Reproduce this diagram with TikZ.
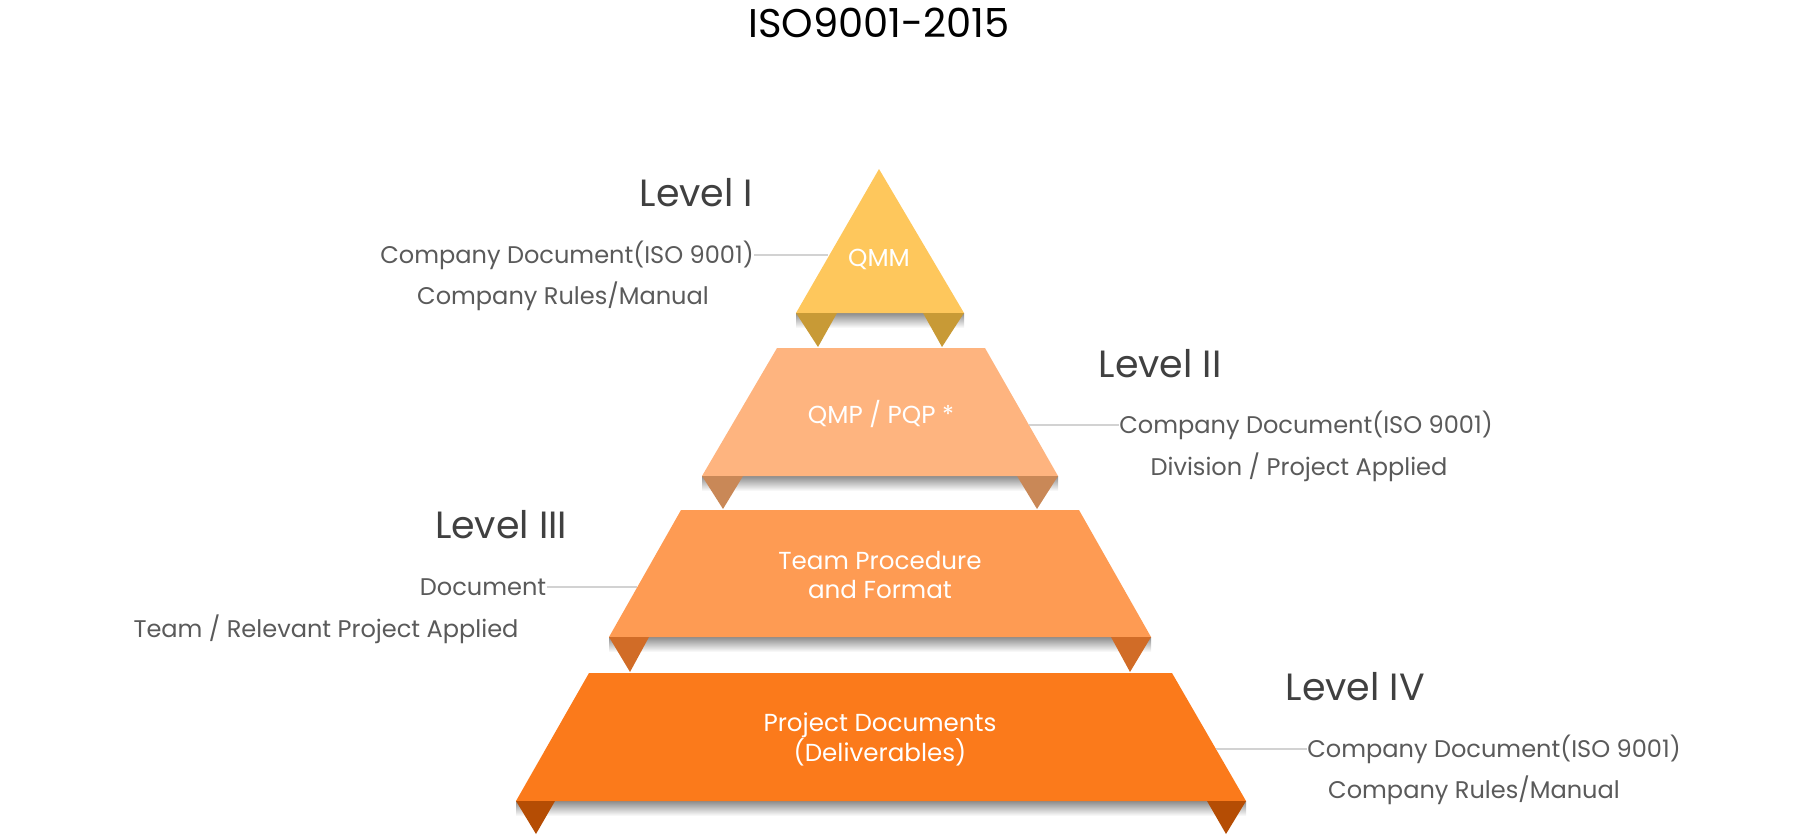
\documentclass[tikz,border=0pt]{standalone}
\usepackage{fontspec}
\setmainfont{Poppins}
\usetikzlibrary{positioning}

\definecolor{lvla}{HTML}{FEC75C}
\definecolor{taba}{HTML}{C89A36}
\definecolor{lvlb}{HTML}{FEB47F}
\definecolor{tabb}{HTML}{C98857}
\definecolor{lvlc}{HTML}{FE9B53}
\definecolor{tabc}{HTML}{D16C27}
\definecolor{lvld}{HTML}{FB7A1B}
\definecolor{tabd}{HTML}{B54D04}
\definecolor{headgray}{HTML}{404040}
\definecolor{notegray}{HTML}{5A5A5A}
\definecolor{leadgray}{HTML}{D2D2D2}

\tikzset{
    lvlhead/.style={text=headgray, font=\fontsize{10.8}{12}\selectfont, inner sep=0pt},
    lvlnote/.style={text=notegray, font=\fontsize{6.85}{8.5}\selectfont, inner sep=0pt},
    lvltext/.style={text=white, align=center, font=\fontsize{7}{8.5}\selectfont, inner sep=0pt},
    leader/.style={draw=leadgray, line width=0.5pt},
    drop/.style={top color=black!45, bottom color=white, draw=none},
}

\begin{document}
\begin{tikzpicture}[x=0.1mm, y=-0.1mm]
    \useasboundingbox (0,0) rectangle (1800,836);

    \node(title) at (879,23) [font=\fontsize{11.4}{13}\selectfont, inner sep=0pt]{ISO9001-2015};

    % level I
    \shade[drop] (796,313) rectangle (964,328);
    \fill[lvla] (796,313) -- (879,169) -- (964,313) -- cycle;
    \fill[taba] (796,313) -- (837,313) -- (818,347) -- cycle;
    \fill[taba] (923,313) -- (964,313) -- (942,347) -- cycle;

    % level II
    \shade[drop] (702,476) rectangle (1058,491);
    \fill[lvlb] (777,348) -- (985,348) -- (1058,476) -- (702,476) -- cycle;
    \fill[tabb] (702,476) -- (743,476) -- (723,509) -- cycle;
    \fill[tabb] (1017,476) -- (1058,476) -- (1037,509) -- cycle;

    % level III
    \shade[drop] (609,637) rectangle (1151,652);
    \fill[lvlc] (681,510) -- (1079,510) -- (1151,637) -- (609,637) -- cycle;
    \fill[tabc] (609,637) -- (649,637) -- (630,672) -- cycle;
    \fill[tabc] (1111,637) -- (1151,637) -- (1130,672) -- cycle;

    % level IV
    \shade[drop] (516,801) rectangle (1246,816);
    \fill[lvld] (589,673) -- (1172,673) -- (1246,801) -- (516,801) -- cycle;
    \fill[tabd] (516,801) -- (555,801) -- (536,834) -- cycle;
    \fill[tabd] (1207,801) -- (1246,801) -- (1226,834) -- cycle;

    \node(qmm) at (879,259) [lvltext]{QMM};
    \node(qmp) at (881,414) [lvltext]{QMP / PQP *};
    \node(team) at (880,575) [lvltext]{Team Procedure\\and Format};
    \node(proj) at (880,739) [lvltext]{Project Documents\\(Deliverables)};

    \node(h1) at (754,193) [lvlhead, anchor=east]{Level I};
    \node(d1a) at (567,255) [lvlnote]{Company Document(ISO 9001)};
    \node(d1b) at (563,296) [lvlnote]{Company Rules/Manual};

    \node(h2) at (1098,364) [lvlhead, anchor=west]{Level II};
    \node(d2a) at (1306,425) [lvlnote]{Company Document(ISO 9001)};
    \node(d2b) at (1299,467) [lvlnote]{Division / Project Applied};

    \node(h3) at (568,525) [lvlhead, anchor=east]{Level III};
    \node(d3a) at (483,587) [lvlnote]{Document};
    \node(d3b) at (326,629) [lvlnote]{Team / Relevant Project Applied};

    \node(h4) at (1285,687) [lvlhead, anchor=west]{Level IV};
    \node(d4a) at (1494,749) [lvlnote]{Company Document(ISO 9001)};
    \node(d4b) at (1474,790) [lvlnote]{Company Rules/Manual};

    \coordinate(e1) at (828,255);
    \coordinate(e2) at (1029,425);
    \coordinate(e3) at (637,587);
    \coordinate(e4) at (1216,749);

    \draw[leader] (d1a.east) -- (e1);
    \draw[leader] (e2) -- (d2a.west);
    \draw[leader] (d3a.east) -- (e3);
    \draw[leader] (e4) -- (d4a.west);

\end{tikzpicture}
\end{document}
